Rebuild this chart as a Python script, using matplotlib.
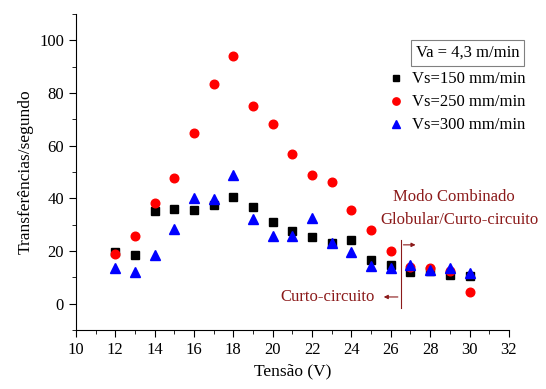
import matplotlib
matplotlib.use("Agg")
import matplotlib.pyplot as plt
from matplotlib.ticker import MultipleLocator

plt.rcParams['font.family'] = ['Liberation Serif', 'DejaVu Serif']

tensao = [12, 13, 14, 15, 16, 17, 18, 19, 20, 21, 22, 23, 24, 25, 26, 27, 28, 29, 30]
vs150 = [19.7, 18.5, 35.2, 36.1, 35.6, 37.6, 40.3, 36.8, 30.8, 27.7, 25.4, 23.1, 24.2,
         16.6, 14.6, 11.9, 12.5, 10.9, 10.6]
vs250 = [19.0, 25.6, 38.1, 47.8, 64.9, 83.5, 94.0, 75.0, 68.3, 56.9, 49.0, 46.0, 35.7,
         27.8, 19.9, 13.8, 13.5, 12.5, 4.3]
vs300 = [13.4, 12.1, 18.5, 28.4, 40.1, 39.7, 48.9, 32.3, 25.6, 25.5, 32.6, 22.9, 19.5,
         14.2, 13.6, 14.5, 12.7, 13.5, 11.7]
series_labels = ['Vs=150 mm/min', 'Vs=250 mm/min', 'Vs=300 mm/min']

dark_red = '#8b1a1a'

fig = plt.figure(figsize=(5.46, 3.89), dpi=100)
ax = fig.add_axes([0.139, 0.152, 0.793, 0.812])

ax.plot(tensao, vs150, 's', color='black', ms=5.5, ls='none', label=series_labels[0])
ax.plot(tensao, vs250, 'o', color='red', ms=6.2, ls='none', label=series_labels[1])
ax.plot(tensao, vs300, '^', color='blue', ms=6.8, ls='none', label=series_labels[2])

ax.set_xlim(10, 32)
ax.set_ylim(-10, 110)
ax.set_xticks(range(10, 33, 2))
ax.set_yticks(range(0, 101, 20))
ax.xaxis.set_minor_locator(MultipleLocator(1))
ax.yaxis.set_minor_locator(MultipleLocator(10))
ax.tick_params(which='major', length=5, labelsize=12)
ax.tick_params(which='minor', length=3)
ax.spines['top'].set_visible(False)
ax.spines['right'].set_visible(False)

ax.set_xlabel('Tensão (V)', fontsize=12.5)
ax.set_ylabel('Transferências/segundo', fontsize=12.5)

ax.text(0.904, 0.877, 'Va = 4,3 m/min', transform=ax.transAxes, ha='center', va='center',
        fontsize=12, bbox=dict(boxstyle='square,pad=0.3', fc='white', ec='gray', lw=0.8))
ax.legend(loc='upper left', bbox_to_anchor=(0.719, 0.818), frameon=False, fontsize=12,
          handletextpad=0.46, handlelength=1.0, labelspacing=0.42, borderaxespad=0,
          borderpad=0, markerscale=0.85)

ax.text(29.2, 40.6, 'Modo Combinado', color=dark_red, fontsize=12, ha='center', va='center')
ax.text(29.5, 31.8, 'Globular/Curto-circuito', color=dark_red, fontsize=12, ha='center', va='center')
ax.plot([26.5, 26.5], [24.2, -1.7], color=dark_red, lw=0.8)
ax.annotate('', xy=(27.4, 22.3), xytext=(26.5, 22.3),
            arrowprops=dict(arrowstyle='-|>', color=dark_red, lw=0.8, mutation_scale=6))
ax.annotate('', xy=(25.5, 2.5), xytext=(26.5, 2.5),
            arrowprops=dict(arrowstyle='-|>', color=dark_red, lw=0.8, mutation_scale=6))
ax.text(25.2, 2.5, 'Curto-circuito', color=dark_red, fontsize=12, ha='right', va='center')

fig.savefig('out.png', dpi=100)
